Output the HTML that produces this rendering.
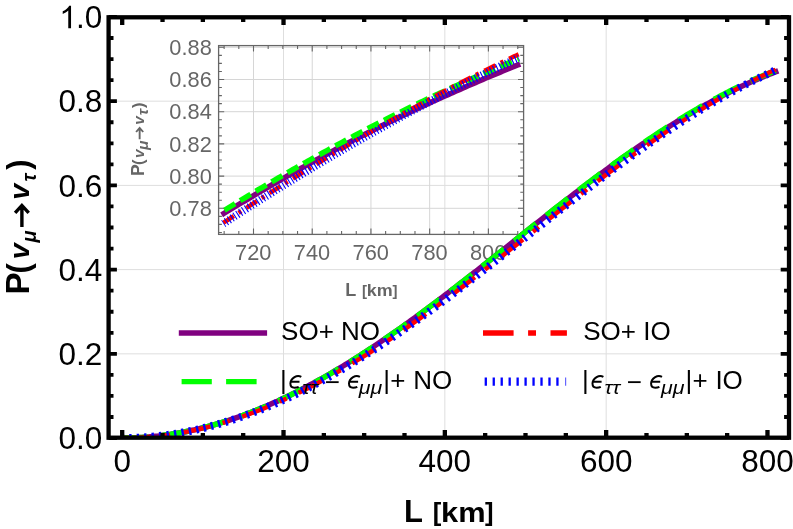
<!DOCTYPE html>
<html><head><meta charset="utf-8"><title>plot</title>
<style>html,body{margin:0;padding:0;background:#fff}svg{display:block;will-change:transform;opacity:0.999}</style></head>
<body>
<svg width="793" height="529" viewBox="0 0 793 529">
<defs><clipPath id="cm"><rect x="108.6" y="17.3" width="680.4" height="420.4"/></clipPath><clipPath id="ci"><rect x="218.6" y="45.6" width="305" height="188.8"/></clipPath></defs>
<rect width="793" height="529" fill="#fff"/>
<g stroke="#dedede" stroke-width="1" fill="none">
<line x1="283.52" x2="283.52" y1="17.3" y2="437.7"/>
<line x1="444.84" x2="444.84" y1="17.3" y2="437.7"/>
<line x1="606.16" x2="606.16" y1="17.3" y2="437.7"/>
<line y1="353.84" y2="353.84" x1="108.6" x2="789"/>
<line y1="269.62" y2="269.62" x1="108.6" x2="789"/>
<line y1="185.40" y2="185.40" x1="108.6" x2="789"/>
<line y1="101.18" y2="101.18" x1="108.6" x2="789"/>
</g>
<g stroke="#d6d6d6" stroke-width="1" fill="none">
<line x1="253.50" x2="253.50" y1="45.6" y2="234.4"/>
<line x1="312.22" x2="312.22" y1="45.6" y2="234.4"/>
<line x1="370.94" x2="370.94" y1="45.6" y2="234.4"/>
<line x1="429.66" x2="429.66" y1="45.6" y2="234.4"/>
<line x1="488.38" x2="488.38" y1="45.6" y2="234.4"/>
<line y1="208.30" y2="208.30" x1="218.6" x2="523.6"/>
<line y1="176.10" y2="176.10" x1="218.6" x2="523.6"/>
<line y1="143.90" y2="143.90" x1="218.6" x2="523.6"/>
<line y1="111.70" y2="111.70" x1="218.6" x2="523.6"/>
<line y1="79.50" y2="79.50" x1="218.6" x2="523.6"/>
<line y1="47.30" y2="47.30" x1="218.6" x2="523.6"/>
</g>
<g clip-path="url(#ci)" fill="none" stroke-linecap="butt" stroke-linejoin="round">
<path d="M221.64 214.79 L224.13 213.27 L226.62 211.76 L229.11 210.25 L231.60 208.74 L234.09 207.24 L236.57 205.74 L239.06 204.25 L241.55 202.75 L244.04 201.27 L246.53 199.78 L249.02 198.31 L251.50 196.83 L253.99 195.36 L256.48 193.89 L258.97 192.43 L261.46 190.97 L263.94 189.51 L266.43 188.06 L268.92 186.61 L271.41 185.17 L273.90 183.73 L276.39 182.30 L278.87 180.87 L281.36 179.44 L283.85 178.02 L286.34 176.60 L288.83 175.18 L291.32 173.77 L293.80 172.37 L296.29 170.97 L298.78 169.57 L301.27 168.17 L303.76 166.78 L306.25 165.40 L308.73 164.02 L311.22 162.64 L313.71 161.28 L316.20 159.93 L318.69 158.58 L321.17 157.24 L323.66 155.90 L326.15 154.56 L328.64 153.23 L331.13 151.91 L333.62 150.58 L336.10 149.27 L338.59 147.95 L341.08 146.64 L343.57 145.34 L346.06 144.04 L348.55 142.74 L351.03 141.45 L353.52 140.17 L356.01 138.88 L358.50 137.61 L360.99 136.33 L363.48 135.06 L365.96 133.80 L368.45 132.54 L370.94 131.28 L373.43 130.03 L375.92 128.78 L378.40 127.54 L380.89 126.30 L383.38 125.07 L385.87 123.84 L388.36 122.62 L390.85 121.40 L393.33 120.18 L395.82 118.97 L398.31 117.77 L400.80 116.57 L403.29 115.37 L405.78 114.18 L408.26 112.99 L410.75 111.81 L413.24 110.63 L415.73 109.45 L418.22 108.29 L420.71 107.12 L423.19 105.96 L425.68 104.81 L428.17 103.66 L430.66 102.51 L433.15 101.37 L435.63 100.23 L438.12 99.10 L440.61 97.98 L443.10 96.85 L445.59 95.74 L448.08 94.62 L450.56 93.52 L453.05 92.41 L455.54 91.32 L458.03 90.22 L460.52 89.12 L463.01 88.02 L465.49 86.93 L467.98 85.84 L470.47 84.75 L472.96 83.67 L475.45 82.60 L477.94 81.53 L480.42 80.46 L482.91 79.40 L485.40 78.34 L487.89 77.29 L490.38 76.24 L492.86 75.20 L495.35 74.16 L497.84 73.13 L500.33 72.11 L502.82 71.08 L505.31 70.07 L507.79 69.05 L510.28 68.05 L512.77 67.05 L515.26 66.05 L517.75 65.06 L520.24 64.07" stroke="#800080" stroke-width="5.5"/>
<path d="M224.43 210.24 L226.89 208.73 L229.34 207.23 L231.79 205.73 L234.24 204.23 L236.69 202.74 L239.14 201.25 L241.59 199.77 L244.05 198.29 L246.50 196.81 L248.95 195.34 L251.40 193.87 L253.85 192.41 L256.30 190.94 L258.76 189.49 L261.21 188.03 L263.66 186.58 L266.11 185.14 L268.56 183.70 L271.01 182.26 L273.46 180.83 L275.92 179.40 L278.37 177.97 L280.82 176.55 L283.27 175.13 L285.72 173.71 L288.17 172.30 L290.63 170.90 L293.08 169.50 L295.53 168.10 L297.98 166.70 L300.43 165.31 L302.88 163.93 L305.34 162.54 L307.79 161.17 L310.24 159.79 L312.69 158.42 L315.14 157.06 L317.59 155.69 L320.04 154.34 L322.50 152.98 L324.95 151.63 L327.40 150.29 L329.85 148.95 L332.30 147.61 L334.75 146.28 L337.21 144.95 L339.66 143.62 L342.11 142.30 L344.56 140.99 L347.01 139.68 L349.46 138.37 L351.91 137.07 L354.37 135.77 L356.82 134.47 L359.27 133.18 L361.72 131.89 L364.17 130.61 L366.62 129.33 L369.08 128.06 L371.53 126.79 L373.98 125.53 L376.43 124.27 L378.88 123.01 L381.33 121.76 L383.78 120.51 L386.24 119.27 L388.69 118.03 L391.14 116.79 L393.59 115.57 L396.04 114.34 L398.49 113.12 L400.95 111.90 L403.40 110.69 L405.85 109.48 L408.30 108.28 L410.75 107.08 L413.20 105.88 L415.66 104.69 L418.11 103.51 L420.56 102.33 L423.01 101.15 L425.46 99.98 L427.91 98.81 L430.36 97.65 L432.82 96.49 L435.27 95.34 L437.72 94.19 L440.17 93.04 L442.62 91.90 L445.07 90.77 L447.53 89.64 L449.98 88.51 L452.43 87.39 L454.88 86.27 L457.33 85.16 L459.78 84.05 L462.23 82.95 L464.69 81.85 L467.14 80.75 L469.59 79.66 L472.04 78.58 L474.49 77.50 L476.94 76.42 L479.40 75.35 L481.85 74.29 L484.30 73.23 L486.75 72.17 L489.20 71.12 L491.65 70.07 L494.11 69.03 L496.56 67.99 L499.01 66.96 L501.46 65.93 L503.91 64.90 L506.36 63.89 L508.81 62.87 L511.27 61.86 L513.72 60.86 L516.17 59.86 L518.62 58.86" stroke="#00ff00" stroke-width="5.5" stroke-dasharray="12.5 5.82" stroke-dashoffset="0.00"/>
<path d="M223.41 222.78 L225.87 221.17 L228.33 219.56 L230.79 217.96 L233.25 216.35 L235.71 214.76 L238.17 213.16 L240.63 211.57 L243.09 209.98 L245.55 208.39 L248.01 206.81 L250.47 205.23 L252.93 203.66 L255.39 202.09 L257.85 200.52 L260.31 198.95 L262.77 197.39 L265.23 195.83 L267.69 194.28 L270.15 192.73 L272.61 191.18 L275.07 189.63 L277.53 188.09 L279.99 186.55 L282.45 185.02 L284.91 183.49 L287.37 181.96 L289.83 180.44 L292.29 178.92 L294.75 177.40 L297.21 175.89 L299.67 174.38 L302.13 172.87 L304.59 171.37 L307.05 169.87 L309.51 168.37 L311.97 166.88 L314.43 165.37 L316.89 163.87 L319.35 162.37 L321.81 160.87 L324.27 159.38 L326.73 157.89 L329.19 156.41 L331.65 154.93 L334.11 153.45 L336.57 151.97 L339.03 150.50 L341.49 149.04 L343.95 147.57 L346.41 146.11 L348.87 144.66 L351.33 143.21 L353.79 141.76 L356.25 140.31 L358.71 138.87 L361.17 137.44 L363.63 136.00 L366.09 134.57 L368.55 133.15 L371.01 131.73 L373.47 130.31 L375.93 128.89 L378.39 127.48 L380.85 126.08 L383.31 124.68 L385.77 123.28 L388.23 121.88 L390.69 120.49 L393.15 119.11 L395.61 117.72 L398.07 116.35 L400.53 114.97 L403.00 113.60 L405.46 112.23 L407.92 110.87 L410.38 109.51 L412.84 108.16 L415.30 106.81 L417.76 105.46 L420.22 104.12 L422.68 102.78 L425.14 101.44 L427.60 100.11 L430.06 98.78 L432.52 97.46 L434.98 96.14 L437.44 94.83 L439.90 93.52 L442.36 92.21 L444.82 90.91 L447.28 89.61 L449.74 88.32 L452.20 87.03 L454.66 85.74 L457.12 84.46 L459.58 83.19 L462.04 81.93 L464.50 80.68 L466.96 79.44 L469.42 78.20 L471.88 76.96 L474.34 75.73 L476.80 74.50 L479.26 73.27 L481.72 72.05 L484.18 70.84 L486.64 69.62 L489.10 68.42 L491.56 67.21 L494.02 66.01 L496.48 64.82 L498.94 63.63 L501.40 62.44 L503.86 61.26 L506.32 60.08 L508.78 58.91 L511.24 57.74 L513.70 56.57 L516.16 55.41 L518.62 54.26" stroke="#ff0000" stroke-width="4.4" stroke-dasharray="12.4 5.65 3.3 6.12" stroke-dashoffset="0.00"/>
<path d="M223.41 223.62 L225.87 222.01 L228.33 220.42 L230.79 218.82 L233.25 217.23 L235.71 215.64 L238.17 214.06 L240.63 212.48 L243.09 210.90 L245.55 209.32 L248.01 207.75 L250.47 206.18 L252.93 204.62 L255.39 203.06 L257.85 201.50 L260.31 199.95 L262.77 198.40 L265.23 196.85 L267.69 195.30 L270.15 193.76 L272.61 192.23 L275.07 190.69 L277.53 189.16 L279.99 187.64 L282.45 186.11 L284.91 184.59 L287.37 183.08 L289.83 181.56 L292.29 180.05 L294.75 178.55 L297.21 177.05 L299.67 175.55 L302.13 174.05 L304.59 172.56 L307.05 171.08 L309.51 169.59 L311.97 168.11 L314.43 166.63 L316.89 165.16 L319.35 163.69 L321.81 162.23 L324.27 160.76 L326.73 159.31 L329.19 157.85 L331.65 156.40 L334.11 154.95 L336.57 153.51 L339.03 152.07 L341.49 150.63 L343.95 149.20 L346.41 147.77 L348.87 146.35 L351.33 144.93 L353.79 143.51 L356.25 142.10 L358.71 140.69 L361.17 139.28 L363.63 137.88 L366.09 136.48 L368.55 135.09 L371.01 133.70 L373.47 132.31 L375.93 130.93 L378.39 129.55 L380.85 128.18 L383.31 126.81 L385.77 125.44 L388.23 124.08 L390.69 122.72 L393.15 121.36 L395.61 120.01 L398.07 118.67 L400.53 117.32 L403.00 115.98 L405.46 114.65 L407.92 113.32 L410.38 111.99 L412.84 110.67 L415.30 109.35 L417.76 108.04 L420.22 106.72 L422.68 105.42 L425.14 104.12 L427.60 102.82 L430.06 101.52 L432.52 100.23 L434.98 98.95 L437.44 97.66 L439.90 96.39 L442.36 95.11 L444.82 93.84 L447.28 92.58 L449.74 91.32 L452.20 90.06 L454.66 88.81 L457.12 87.56 L459.58 86.31 L462.04 85.07 L464.50 83.84 L466.96 82.60 L469.42 81.38 L471.88 80.15 L474.34 78.93 L476.80 77.72 L479.26 76.51 L481.72 75.30 L484.18 74.10 L486.64 72.90 L489.10 71.71 L491.56 70.52 L494.02 69.33 L496.48 68.15 L498.94 66.98 L501.40 65.81 L503.86 64.64 L506.32 63.47 L508.78 62.32 L511.24 61.16 L513.70 60.01 L516.16 58.87 L518.62 57.72" stroke="#0000ff" stroke-width="7.9" stroke-dasharray="1.1 2.286" stroke-dashoffset="0.30"/>
</g>
<g stroke="#666666" fill="none">
<rect x="218.6" y="45.6" width="305" height="188.8" stroke-width="1.3"/>
<path d="M224.14 234.4v-3.3M224.14 45.6v3.3M238.82 234.4v-3.3M238.82 45.6v3.3M253.50 234.4v-6.0M253.50 45.6v6.0M268.18 234.4v-3.3M268.18 45.6v3.3M282.86 234.4v-3.3M282.86 45.6v3.3M297.54 234.4v-3.3M297.54 45.6v3.3M312.22 234.4v-6.0M312.22 45.6v6.0M326.90 234.4v-3.3M326.90 45.6v3.3M341.58 234.4v-3.3M341.58 45.6v3.3M356.26 234.4v-3.3M356.26 45.6v3.3M370.94 234.4v-6.0M370.94 45.6v6.0M385.62 234.4v-3.3M385.62 45.6v3.3M400.30 234.4v-3.3M400.30 45.6v3.3M414.98 234.4v-3.3M414.98 45.6v3.3M429.66 234.4v-6.0M429.66 45.6v6.0M444.34 234.4v-3.3M444.34 45.6v3.3M459.02 234.4v-3.3M459.02 45.6v3.3M473.70 234.4v-3.3M473.70 45.6v3.3M488.38 234.4v-6.0M488.38 45.6v6.0M503.06 234.4v-3.3M503.06 45.6v3.3M517.74 234.4v-3.3M517.74 45.6v3.3M218.6 232.45h3.3M523.6 232.45h-3.3M218.6 224.40h3.3M523.6 224.40h-3.3M218.6 216.35h3.3M523.6 216.35h-3.3M218.6 208.30h5.6M523.6 208.30h-5.6M218.6 200.25h3.3M523.6 200.25h-3.3M218.6 192.20h3.3M523.6 192.20h-3.3M218.6 184.15h3.3M523.6 184.15h-3.3M218.6 176.10h5.6M523.6 176.10h-5.6M218.6 168.05h3.3M523.6 168.05h-3.3M218.6 160.00h3.3M523.6 160.00h-3.3M218.6 151.95h3.3M523.6 151.95h-3.3M218.6 143.90h5.6M523.6 143.90h-5.6M218.6 135.85h3.3M523.6 135.85h-3.3M218.6 127.80h3.3M523.6 127.80h-3.3M218.6 119.75h3.3M523.6 119.75h-3.3M218.6 111.70h5.6M523.6 111.70h-5.6M218.6 103.65h3.3M523.6 103.65h-3.3M218.6 95.60h3.3M523.6 95.60h-3.3M218.6 87.55h3.3M523.6 87.55h-3.3M218.6 79.50h5.6M523.6 79.50h-5.6M218.6 71.45h3.3M523.6 71.45h-3.3M218.6 63.40h3.3M523.6 63.40h-3.3M218.6 55.35h3.3M523.6 55.35h-3.3M218.6 47.30h5.6M523.6 47.30h-5.6" stroke-width="1.1"/>
</g>
<g font-family='"Liberation Sans", sans-serif' font-size="21.8" fill="#666666">
<text x="211.8" y="215.90" text-anchor="end">0.78</text>
<text x="211.8" y="183.70" text-anchor="end">0.80</text>
<text x="211.8" y="151.50" text-anchor="end">0.82</text>
<text x="211.8" y="119.30" text-anchor="end">0.84</text>
<text x="211.8" y="87.10" text-anchor="end">0.86</text>
<text x="211.8" y="54.90" text-anchor="end">0.88</text>
<text x="253.30" y="260.4" text-anchor="middle">720</text>
<text x="312.02" y="260.4" text-anchor="middle">740</text>
<text x="370.74" y="260.4" text-anchor="middle">760</text>
<text x="429.46" y="260.4" text-anchor="middle">780</text>
<text x="488.18" y="260.4" text-anchor="middle">800</text>
</g>
<g transform="translate(346.50 295.90) scale(0.5820)" font-family='"Liberation Sans", sans-serif' font-weight="bold" fill="#666666"><text x="-2.1" y="0" font-size="31">L</text><text x="26.7" y="-0.3" font-size="25.7">[</text><text x="35.0" y="0" font-size="28.5" textLength="44.5" lengthAdjust="spacingAndGlyphs">km</text><text x="78.9" y="-0.3" font-size="25.7">]</text></g>
<g transform="translate(144.10 174.90) rotate(-90) scale(1.0000)" font-family='"Liberation Sans", sans-serif' font-weight="bold" fill="#666666"><text x="-1.20" y="0.00"  font-size="17.60">P</text><text x="10.00" y="-0.30"  font-size="16.50">(</text><text x="16.90" y="0.00" font-style="italic" font-size="15.50">v</text><text x="24.90" y="4.00" font-style="italic" font-size="15.50">&#x3bc;</text><path d="M35.7 -4.45H46.6M42.9 -8.0L47.0 -4.45L42.9 -0.9" fill="none" stroke="#666666" stroke-width="1.9" stroke-linejoin="miter"/><text x="50.10" y="0.00" font-style="italic" font-size="15.50">v</text><text x="59.60" y="4.00" font-style="italic" font-size="15.50">&#x3c4;</text><text x="66.90" y="-0.30"  font-size="16.50">)</text></g>
<g clip-path="url(#cm)" fill="none" stroke-linecap="butt" stroke-linejoin="round">
<path d="M122.20 438.06 L124.39 438.05 L126.57 438.03 L128.76 437.99 L130.95 437.94 L133.13 437.87 L135.32 437.79 L137.51 437.69 L139.70 437.57 L141.88 437.44 L144.07 437.30 L146.26 437.14 L148.44 436.96 L150.63 436.77 L152.82 436.57 L155.00 436.35 L157.19 436.11 L159.38 435.86 L161.57 435.60 L163.75 435.32 L165.94 435.02 L168.13 434.71 L170.31 434.38 L172.50 434.04 L174.69 433.69 L176.87 433.32 L179.06 432.93 L181.25 432.53 L183.43 432.12 L185.62 431.69 L187.81 431.24 L190.00 430.78 L192.18 430.31 L194.37 429.82 L196.56 429.32 L198.74 428.80 L200.93 428.27 L203.12 427.72 L205.30 427.16 L207.49 426.58 L209.68 426.00 L211.87 425.39 L214.05 424.78 L216.24 424.15 L218.43 423.50 L220.61 422.85 L222.80 422.17 L224.99 421.49 L227.17 420.79 L229.36 420.08 L231.55 419.36 L233.74 418.62 L235.92 417.86 L238.11 417.10 L240.30 416.32 L242.48 415.53 L244.67 414.73 L246.86 413.91 L249.04 413.08 L251.23 412.23 L253.42 411.38 L255.60 410.51 L257.79 409.63 L259.98 408.73 L262.17 407.82 L264.35 406.91 L266.54 405.97 L268.73 405.03 L270.91 404.07 L273.10 403.10 L275.29 402.12 L277.47 401.13 L279.66 400.12 L281.85 399.10 L284.04 398.07 L286.22 397.03 L288.41 395.98 L290.60 394.91 L292.78 393.83 L294.97 392.74 L297.16 391.64 L299.34 390.53 L301.53 389.41 L303.72 388.27 L305.90 387.13 L308.09 385.97 L310.28 384.80 L312.47 383.62 L314.65 382.43 L316.84 381.23 L319.03 380.02 L321.21 378.80 L323.40 377.56 L325.59 376.32 L327.77 375.07 L329.96 373.80 L332.15 372.53 L334.34 371.24 L336.52 369.95 L338.71 368.64 L340.90 367.33 L343.08 366.00 L345.27 364.67 L347.46 363.32 L349.64 361.97 L351.83 360.61 L354.02 359.23 L356.20 357.85 L358.39 356.46 L360.58 355.06 L362.77 353.65 L364.95 352.23 L367.14 350.81 L369.33 349.37 L371.51 347.93 L373.70 346.48 L375.89 345.02 L378.07 343.55 L380.26 342.07 L382.45 340.58 L384.64 339.09 L386.82 337.59 L389.01 336.08 L391.20 334.57 L393.38 333.04 L395.57 331.51 L397.76 329.97 L399.94 328.43 L402.13 326.87 L404.32 325.32 L406.50 323.75 L408.69 322.18 L410.88 320.60 L413.07 319.01 L415.25 317.42 L417.44 315.82 L419.63 314.22 L421.81 312.61 L424.00 310.99 L426.19 309.37 L428.37 307.74 L430.56 306.11 L432.75 304.47 L434.94 302.83 L437.12 301.18 L439.31 299.52 L441.50 297.87 L443.68 296.20 L445.87 294.54 L448.06 292.87 L450.24 291.19 L452.43 289.51 L454.62 287.83 L456.81 286.14 L458.99 284.45 L461.18 282.75 L463.37 281.05 L465.55 279.35 L467.74 277.65 L469.93 275.94 L472.11 274.23 L474.30 272.51 L476.49 270.80 L478.67 269.08 L480.86 267.36 L483.05 265.64 L485.24 263.91 L487.42 262.19 L489.61 260.46 L491.80 258.73 L493.98 257.00 L496.17 255.26 L498.36 253.53 L500.54 251.79 L502.73 250.06 L504.92 248.32 L507.11 246.58 L509.29 244.85 L511.48 243.11 L513.67 241.37 L515.85 239.63 L518.04 237.90 L520.23 236.16 L522.41 234.42 L524.60 232.69 L526.79 230.95 L528.97 229.22 L531.16 227.48 L533.35 225.75 L535.54 224.02 L537.72 222.29 L539.91 220.56 L542.10 218.84 L544.28 217.11 L546.47 215.39 L548.66 213.67 L550.84 211.96 L553.03 210.24 L555.22 208.53 L557.41 206.82 L559.59 205.11 L561.78 203.41 L563.97 201.71 L566.15 200.02 L568.34 198.32 L570.53 196.63 L572.71 194.95 L574.90 193.27 L577.09 191.59 L579.27 189.92 L581.46 188.25 L583.65 186.59 L585.84 184.93 L588.02 183.27 L590.21 181.62 L592.40 179.98 L594.58 178.34 L596.77 176.71 L598.96 175.08 L601.14 173.46 L603.33 171.84 L605.52 170.23 L607.71 168.63 L609.89 167.03 L612.08 165.44 L614.27 163.85 L616.45 162.27 L618.64 160.70 L620.83 159.14 L623.01 157.58 L625.20 156.03 L627.39 154.48 L629.58 152.95 L631.76 151.42 L633.95 149.89 L636.14 148.38 L638.32 146.87 L640.51 145.38 L642.70 143.89 L644.88 142.40 L647.07 140.93 L649.26 139.47 L651.44 138.01 L653.63 136.56 L655.82 135.12 L658.01 133.69 L660.19 132.26 L662.38 130.85 L664.57 129.44 L666.75 128.04 L668.94 126.65 L671.13 125.27 L673.31 123.90 L675.50 122.54 L677.69 121.19 L679.88 119.85 L682.06 118.52 L684.25 117.19 L686.44 115.88 L688.62 114.58 L690.81 113.28 L693.00 112.00 L695.18 110.73 L697.37 109.47 L699.56 108.22 L701.74 106.97 L703.93 105.74 L706.12 104.52 L708.31 103.31 L710.49 102.12 L712.68 100.93 L714.87 99.75 L717.05 98.59 L719.24 97.43 L721.43 96.29 L723.61 95.16 L725.80 94.04 L727.99 92.93 L730.18 91.84 L732.36 90.75 L734.55 89.68 L736.74 88.62 L738.92 87.57 L741.11 86.54 L743.30 85.51 L745.48 84.50 L747.67 83.50 L749.86 82.52 L752.04 81.54 L754.23 80.58 L756.42 79.63 L758.61 78.70 L760.79 77.77 L762.98 76.86 L765.17 75.96 L767.35 75.08 L769.54 74.21 L771.73 73.35 L773.91 72.51 L776.10 71.67 L778.29 70.86" stroke="#800080" stroke-width="5.5"/>
<path d="M122.20 438.06 L124.38 438.05 L126.56 438.03 L128.74 437.99 L130.91 437.94 L133.09 437.87 L135.27 437.79 L137.45 437.69 L139.63 437.58 L141.81 437.45 L143.98 437.31 L146.16 437.15 L148.34 436.97 L150.52 436.79 L152.70 436.58 L154.88 436.36 L157.05 436.13 L159.23 435.88 L161.41 435.62 L163.59 435.34 L165.77 435.05 L167.95 434.74 L170.12 434.42 L172.30 434.08 L174.48 433.73 L176.66 433.36 L178.84 432.98 L181.02 432.58 L183.19 432.17 L185.37 431.74 L187.55 431.30 L189.73 430.85 L191.91 430.38 L194.09 429.89 L196.26 429.39 L198.44 428.88 L200.62 428.35 L202.80 427.81 L204.98 427.26 L207.16 426.69 L209.33 426.10 L211.51 425.51 L213.69 424.89 L215.87 424.27 L218.05 423.63 L220.23 422.98 L222.40 422.31 L224.58 421.64 L226.76 420.94 L228.94 420.24 L231.12 419.52 L233.30 418.79 L235.47 418.04 L237.65 417.28 L239.83 416.51 L242.01 415.73 L244.19 414.93 L246.37 414.12 L248.54 413.29 L250.72 412.46 L252.90 411.61 L255.08 410.75 L257.26 409.87 L259.44 408.98 L261.61 408.08 L263.79 407.17 L265.97 406.25 L268.15 405.31 L270.33 404.36 L272.51 403.40 L274.69 402.43 L276.86 401.44 L279.04 400.44 L281.22 399.43 L283.40 398.41 L285.58 397.38 L287.76 396.33 L289.93 395.27 L292.11 394.20 L294.29 393.12 L296.47 392.03 L298.65 390.93 L300.83 389.81 L303.00 388.69 L305.18 387.55 L307.36 386.40 L309.54 385.24 L311.72 384.07 L313.90 382.89 L316.07 381.70 L318.25 380.50 L320.43 379.28 L322.61 378.06 L324.79 376.83 L326.97 375.58 L329.14 374.33 L331.32 373.06 L333.50 371.78 L335.68 370.50 L337.86 369.20 L340.04 367.90 L342.21 366.58 L344.39 365.26 L346.57 363.92 L348.75 362.58 L350.93 361.22 L353.11 359.86 L355.28 358.49 L357.46 357.11 L359.64 355.72 L361.82 354.32 L364.00 352.91 L366.18 351.49 L368.35 350.06 L370.53 348.63 L372.71 347.19 L374.89 345.74 L377.07 344.28 L379.25 342.81 L381.42 341.33 L383.60 339.85 L385.78 338.36 L387.96 336.86 L390.14 335.35 L392.32 333.84 L394.49 332.31 L396.67 330.78 L398.85 329.25 L401.03 327.70 L403.21 326.15 L405.39 324.60 L407.56 323.03 L409.74 321.46 L411.92 319.88 L414.10 318.30 L416.28 316.71 L418.46 315.11 L420.64 313.51 L422.81 311.90 L424.99 310.29 L427.17 308.67 L429.35 307.05 L431.53 305.42 L433.71 303.78 L435.88 302.14 L438.06 300.50 L440.24 298.85 L442.42 297.19 L444.60 295.53 L446.78 293.87 L448.95 292.20 L451.13 290.52 L453.31 288.85 L455.49 287.17 L457.67 285.48 L459.85 283.79 L462.02 282.10 L464.20 280.41 L466.38 278.71 L468.56 277.01 L470.74 275.30 L472.92 273.59 L475.09 271.88 L477.27 270.17 L479.45 268.46 L481.63 266.74 L483.81 265.02 L485.99 263.30 L488.16 261.57 L490.34 259.85 L492.52 258.12 L494.70 256.39 L496.88 254.66 L499.06 252.93 L501.23 251.20 L503.41 249.47 L505.59 247.73 L507.77 246.00 L509.95 244.26 L512.13 242.53 L514.30 240.79 L516.48 239.06 L518.66 237.32 L520.84 235.59 L523.02 233.85 L525.20 232.12 L527.37 230.39 L529.55 228.66 L531.73 226.92 L533.91 225.19 L536.09 223.47 L538.27 221.74 L540.44 220.01 L542.62 218.29 L544.80 216.57 L546.98 214.85 L549.16 213.13 L551.34 211.42 L553.51 209.70 L555.69 207.99 L557.87 206.28 L560.05 204.58 L562.23 202.88 L564.41 201.18 L566.58 199.49 L568.76 197.79 L570.94 196.11 L573.12 194.42 L575.30 192.74 L577.48 191.06 L579.66 189.39 L581.83 187.72 L584.01 186.06 L586.19 184.40 L588.37 182.75 L590.55 181.10 L592.73 179.45 L594.90 177.82 L597.08 176.18 L599.26 174.55 L601.44 172.93 L603.62 171.31 L605.80 169.70 L607.97 168.10 L610.15 166.50 L612.33 164.90 L614.51 163.32 L616.69 161.74 L618.87 160.16 L621.04 158.60 L623.22 157.03 L625.40 155.48 L627.58 153.93 L629.76 152.40 L631.94 150.86 L634.11 149.34 L636.29 147.82 L638.47 146.31 L640.65 144.81 L642.83 143.32 L645.01 141.83 L647.18 140.36 L649.36 138.89 L651.54 137.42 L653.72 135.97 L655.90 134.53 L658.08 133.09 L660.25 131.66 L662.43 130.24 L664.61 128.83 L666.79 127.42 L668.97 126.03 L671.15 124.64 L673.32 123.27 L675.50 121.90 L677.68 120.54 L679.86 119.20 L682.04 117.86 L684.22 116.53 L686.39 115.21 L688.57 113.90 L690.75 112.60 L692.93 111.31 L695.11 110.03 L697.29 108.76 L699.46 107.50 L701.64 106.25 L703.82 105.01 L706.00 103.78 L708.18 102.56 L710.36 101.35 L712.53 100.16 L714.71 98.97 L716.89 97.80 L719.07 96.63 L721.25 95.48 L723.43 94.34 L725.61 93.21 L727.78 92.09 L729.96 90.98 L732.14 89.89 L734.32 88.81 L736.50 87.73 L738.68 86.67 L740.85 85.63 L743.03 84.59 L745.21 83.57 L747.39 82.56 L749.57 81.56 L751.75 80.57 L753.92 79.59 L756.10 78.63 L758.28 77.68 L760.46 76.75 L762.64 75.82 L764.82 74.91 L766.99 74.01 L769.17 73.13 L771.35 72.25 L773.53 71.39 L775.71 70.55" stroke="#00ff00" stroke-width="5.5" stroke-dasharray="27.9 12.95" stroke-dashoffset="1.85"/>
<path d="M122.20 438.06 L124.38 438.05 L126.56 438.03 L128.74 437.99 L130.91 437.94 L133.09 437.88 L135.27 437.80 L137.45 437.71 L139.63 437.60 L141.81 437.48 L143.98 437.34 L146.16 437.19 L148.34 437.02 L150.52 436.84 L152.70 436.65 L154.88 436.44 L157.05 436.21 L159.23 435.98 L161.41 435.72 L163.59 435.46 L165.77 435.18 L167.95 434.88 L170.12 434.57 L172.30 434.25 L174.48 433.91 L176.66 433.56 L178.84 433.20 L181.02 432.82 L183.19 432.42 L185.37 432.02 L187.55 431.59 L189.73 431.16 L191.91 430.71 L194.09 430.24 L196.26 429.77 L198.44 429.28 L200.62 428.77 L202.80 428.25 L204.98 427.72 L207.16 427.17 L209.33 426.61 L211.51 426.04 L213.69 425.46 L215.87 424.86 L218.05 424.25 L220.23 423.62 L222.40 422.98 L224.58 422.33 L226.76 421.67 L228.94 420.99 L231.12 420.30 L233.30 419.60 L235.47 418.89 L237.65 418.16 L239.83 417.42 L242.01 416.67 L244.19 415.90 L246.37 415.13 L248.54 414.34 L250.72 413.53 L252.90 412.72 L255.08 411.89 L257.26 411.05 L259.44 410.20 L261.61 409.34 L263.79 408.46 L265.97 407.57 L268.15 406.67 L270.33 405.76 L272.51 404.84 L274.69 403.90 L276.86 402.96 L279.04 402.00 L281.22 401.03 L283.40 400.05 L285.58 399.05 L287.76 398.05 L289.93 397.03 L292.11 396.00 L294.29 394.96 L296.47 393.91 L298.65 392.85 L300.83 391.78 L303.00 390.70 L305.18 389.60 L307.36 388.50 L309.54 387.38 L311.72 386.25 L313.90 385.12 L316.07 383.97 L318.25 382.81 L320.43 381.64 L322.61 380.46 L324.79 379.27 L326.97 378.07 L329.14 376.86 L331.32 375.64 L333.50 374.41 L335.68 373.17 L337.86 371.91 L340.04 370.65 L342.21 369.38 L344.39 368.10 L346.57 366.81 L348.75 365.52 L350.93 364.21 L353.11 362.89 L355.28 361.56 L357.46 360.23 L359.64 358.88 L361.82 357.53 L364.00 356.16 L366.18 354.79 L368.35 353.41 L370.53 352.02 L372.71 350.62 L374.89 349.22 L377.07 347.80 L379.25 346.38 L381.42 344.95 L383.60 343.51 L385.78 342.06 L387.96 340.60 L390.14 339.14 L392.32 337.67 L394.49 336.19 L396.67 334.71 L398.85 333.21 L401.03 331.71 L403.21 330.20 L405.39 328.69 L407.56 327.17 L409.74 325.64 L411.92 324.10 L414.10 322.56 L416.28 321.01 L418.46 319.46 L420.64 317.89 L422.81 316.33 L424.99 314.75 L427.17 313.17 L429.35 311.59 L431.53 309.99 L433.71 308.40 L435.88 306.79 L438.06 305.19 L440.24 303.57 L442.42 301.95 L444.60 300.33 L446.78 298.70 L448.95 297.07 L451.13 295.43 L453.31 293.79 L455.49 292.14 L457.67 290.49 L459.85 288.83 L462.02 287.17 L464.20 285.50 L466.38 283.84 L468.56 282.16 L470.74 280.49 L472.92 278.81 L475.09 277.13 L477.27 275.44 L479.45 273.75 L481.63 272.06 L483.81 270.37 L485.99 268.67 L488.16 266.97 L490.34 265.27 L492.52 263.56 L494.70 261.86 L496.88 260.15 L499.06 258.44 L501.23 256.73 L503.41 255.01 L505.59 253.30 L507.77 251.58 L509.95 249.86 L512.13 248.14 L514.30 246.42 L516.48 244.70 L518.66 242.98 L520.84 241.26 L523.02 239.53 L525.20 237.81 L527.37 236.09 L529.55 234.36 L531.73 232.64 L533.91 230.92 L536.09 229.19 L538.27 227.47 L540.44 225.75 L542.62 224.03 L544.80 222.31 L546.98 220.59 L549.16 218.87 L551.34 217.16 L553.51 215.44 L555.69 213.73 L557.87 212.02 L560.05 210.31 L562.23 208.60 L564.41 206.90 L566.58 205.19 L568.76 203.49 L570.94 201.79 L573.12 200.10 L575.30 198.41 L577.48 196.72 L579.66 195.03 L581.83 193.35 L584.01 191.67 L586.19 189.99 L588.37 188.32 L590.55 186.65 L592.73 184.98 L594.90 183.32 L597.08 181.66 L599.26 180.01 L601.44 178.36 L603.62 176.71 L605.80 175.07 L607.97 173.44 L610.15 171.81 L612.33 170.18 L614.51 168.56 L616.69 166.95 L618.87 165.34 L621.04 163.73 L623.22 162.14 L625.40 160.54 L627.58 158.95 L629.76 157.37 L631.94 155.80 L634.11 154.23 L636.29 152.67 L638.47 151.11 L640.65 149.56 L642.83 148.02 L645.01 146.48 L647.18 144.95 L649.36 143.43 L651.54 141.91 L653.72 140.40 L655.90 138.90 L658.08 137.40 L660.25 135.91 L662.43 134.43 L664.61 132.95 L666.79 131.49 L668.97 130.03 L671.15 128.57 L673.32 127.13 L675.50 125.69 L677.68 124.26 L679.86 122.84 L682.04 121.43 L684.22 120.02 L686.39 118.63 L688.57 117.24 L690.75 115.86 L692.93 114.49 L695.11 113.13 L697.29 111.77 L699.46 110.43 L701.64 109.09 L703.82 107.76 L706.00 106.45 L708.18 105.14 L710.36 103.84 L712.53 102.55 L714.71 101.27 L716.89 100.00 L719.07 98.74 L721.25 97.49 L723.43 96.24 L725.61 95.01 L727.78 93.79 L729.96 92.58 L732.14 91.38 L734.32 90.19 L736.50 89.01 L738.68 87.84 L740.85 86.68 L743.03 85.53 L745.21 84.40 L747.39 83.27 L749.57 82.15 L751.75 81.05 L753.92 79.96 L756.10 78.87 L758.28 77.80 L760.46 76.74 L762.64 75.69 L764.82 74.66 L766.99 73.63 L769.17 72.62 L771.35 71.61 L773.53 70.62 L775.71 69.64" stroke="#ff0000" stroke-width="4.4" stroke-dasharray="27.7 12.7 7.4 13.35" stroke-dashoffset="60.86"/>
<path d="M122.20 438.06 L124.38 438.05 L126.56 438.03 L128.74 437.99 L130.91 437.94 L133.09 437.88 L135.27 437.80 L137.45 437.71 L139.63 437.60 L141.81 437.47 L143.98 437.34 L146.16 437.18 L148.34 437.02 L150.52 436.84 L152.70 436.64 L154.88 436.43 L157.05 436.21 L159.23 435.97 L161.41 435.72 L163.59 435.45 L165.77 435.17 L167.95 434.88 L170.12 434.57 L172.30 434.24 L174.48 433.90 L176.66 433.55 L178.84 433.19 L181.02 432.81 L183.19 432.41 L185.37 432.00 L187.55 431.58 L189.73 431.14 L191.91 430.69 L194.09 430.23 L196.26 429.75 L198.44 429.26 L200.62 428.75 L202.80 428.23 L204.98 427.70 L207.16 427.15 L209.33 426.59 L211.51 426.02 L213.69 425.43 L215.87 424.83 L218.05 424.22 L220.23 423.59 L222.40 422.95 L224.58 422.30 L226.76 421.64 L228.94 420.96 L231.12 420.27 L233.30 419.56 L235.47 418.85 L237.65 418.12 L239.83 417.38 L242.01 416.62 L244.19 415.86 L246.37 415.08 L248.54 414.29 L250.72 413.48 L252.90 412.67 L255.08 411.84 L257.26 411.00 L259.44 410.14 L261.61 409.28 L263.79 408.40 L265.97 407.51 L268.15 406.61 L270.33 405.70 L272.51 404.77 L274.69 403.83 L276.86 402.89 L279.04 401.93 L281.22 400.95 L283.40 399.97 L285.58 398.97 L287.76 397.97 L289.93 396.95 L292.11 395.92 L294.29 394.88 L296.47 393.83 L298.65 392.76 L300.83 391.69 L303.00 390.60 L305.18 389.51 L307.36 388.40 L309.54 387.28 L311.72 386.15 L313.90 385.01 L316.07 383.86 L318.25 382.70 L320.43 381.53 L322.61 380.35 L324.79 379.16 L326.97 377.96 L329.14 376.74 L331.32 375.52 L333.50 374.29 L335.68 373.05 L337.86 371.79 L340.04 370.53 L342.21 369.26 L344.39 367.98 L346.57 366.69 L348.75 365.38 L350.93 364.07 L353.11 362.75 L355.28 361.43 L357.46 360.09 L359.64 358.74 L361.82 357.38 L364.00 356.02 L366.18 354.65 L368.35 353.26 L370.53 351.87 L372.71 350.47 L374.89 349.06 L377.07 347.65 L379.25 346.22 L381.42 344.79 L383.60 343.35 L385.78 341.90 L387.96 340.44 L390.14 338.98 L392.32 337.51 L394.49 336.03 L396.67 334.54 L398.85 333.05 L401.03 331.54 L403.21 330.03 L405.39 328.52 L407.56 327.00 L409.74 325.47 L411.92 323.93 L414.10 322.38 L416.28 320.83 L418.46 319.28 L420.64 317.72 L422.81 316.15 L424.99 314.57 L427.17 312.99 L429.35 311.40 L431.53 309.81 L433.71 308.21 L435.88 306.61 L438.06 305.00 L440.24 303.39 L442.42 301.77 L444.60 300.14 L446.78 298.51 L448.95 296.88 L451.13 295.24 L453.31 293.60 L455.49 291.95 L457.67 290.30 L459.85 288.64 L462.02 286.98 L464.20 285.31 L466.38 283.65 L468.56 281.97 L470.74 280.30 L472.92 278.62 L475.09 276.94 L477.27 275.25 L479.45 273.56 L481.63 271.87 L483.81 270.18 L485.99 268.48 L488.16 266.78 L490.34 265.08 L492.52 263.38 L494.70 261.67 L496.88 259.96 L499.06 258.25 L501.23 256.54 L503.41 254.83 L505.59 253.11 L507.77 251.40 L509.95 249.68 L512.13 247.96 L514.30 246.24 L516.48 244.52 L518.66 242.80 L520.84 241.08 L523.02 239.36 L525.20 237.64 L527.37 235.92 L529.55 234.20 L531.73 232.48 L533.91 230.75 L536.09 229.03 L538.27 227.31 L540.44 225.59 L542.62 223.88 L544.80 222.16 L546.98 220.44 L549.16 218.73 L551.34 217.01 L553.51 215.30 L555.69 213.59 L557.87 211.88 L560.05 210.18 L562.23 208.47 L564.41 206.77 L566.58 205.07 L568.76 203.37 L570.94 201.68 L573.12 199.98 L575.30 198.30 L577.48 196.61 L579.66 194.93 L581.83 193.25 L584.01 191.57 L586.19 189.90 L588.37 188.23 L590.55 186.56 L592.73 184.90 L594.90 183.24 L597.08 181.59 L599.26 179.94 L601.44 178.30 L603.62 176.66 L605.80 175.02 L607.97 173.39 L610.15 171.76 L612.33 170.14 L614.51 168.53 L616.69 166.92 L618.87 165.31 L621.04 163.71 L623.22 162.12 L625.40 160.53 L627.58 158.95 L629.76 157.38 L631.94 155.81 L634.11 154.24 L636.29 152.69 L638.47 151.14 L640.65 149.59 L642.83 148.06 L645.01 146.52 L647.18 145.00 L649.36 143.48 L651.54 141.97 L653.72 140.47 L655.90 138.98 L658.08 137.49 L660.25 136.00 L662.43 134.53 L664.61 133.06 L666.79 131.60 L668.97 130.15 L671.15 128.70 L673.32 127.27 L675.50 125.84 L677.68 124.42 L679.86 123.00 L682.04 121.60 L684.22 120.20 L686.39 118.81 L688.57 117.43 L690.75 116.06 L692.93 114.70 L695.11 113.35 L697.29 112.00 L699.46 110.66 L701.64 109.34 L703.82 108.02 L706.00 106.71 L708.18 105.41 L710.36 104.12 L712.53 102.84 L714.71 101.57 L716.89 100.31 L719.07 99.06 L721.25 97.82 L723.43 96.59 L725.61 95.37 L727.78 94.15 L729.96 92.95 L732.14 91.76 L734.32 90.58 L736.50 89.41 L738.68 88.26 L740.85 87.11 L743.03 85.97 L745.21 84.84 L747.39 83.73 L749.57 82.62 L751.75 81.53 L753.92 80.45 L756.10 79.38 L758.28 78.32 L760.46 77.27 L762.64 76.23 L764.82 75.21 L766.99 74.19 L769.17 73.19 L771.35 72.20 L773.53 71.22 L775.71 70.25" stroke="#0000ff" stroke-width="7.9" stroke-dasharray="2.4 5.1" stroke-dashoffset="0.43"/>
</g>
<g stroke="#000" fill="none">
<rect x="108.6" y="17.3" width="680.4" height="420.4" stroke-width="4.3"/>
<path d="M122.20 437.7v-7.7M122.20 17.3v7.7M162.53 437.7v-4.6M162.53 17.3v4.6M202.86 437.7v-4.6M202.86 17.3v4.6M243.19 437.7v-4.6M243.19 17.3v4.6M283.52 437.7v-7.7M283.52 17.3v7.7M323.85 437.7v-4.6M323.85 17.3v4.6M364.18 437.7v-4.6M364.18 17.3v4.6M404.51 437.7v-4.6M404.51 17.3v4.6M444.84 437.7v-7.7M444.84 17.3v7.7M485.17 437.7v-4.6M485.17 17.3v4.6M525.50 437.7v-4.6M525.50 17.3v4.6M565.83 437.7v-4.6M565.83 17.3v4.6M606.16 437.7v-7.7M606.16 17.3v7.7M646.49 437.7v-4.6M646.49 17.3v4.6M686.82 437.7v-4.6M686.82 17.3v4.6M727.15 437.7v-4.6M727.15 17.3v4.6M767.48 437.7v-7.7M767.48 17.3v7.7" stroke-width="4.3"/>
<path d="M108.6 438.06h8.3M789 438.06h-8.3M108.6 417.00h4.9M789 417.00h-4.9M108.6 395.95h4.9M789 395.95h-4.9M108.6 374.89h4.9M789 374.89h-4.9M108.6 353.84h8.3M789 353.84h-8.3M108.6 332.78h4.9M789 332.78h-4.9M108.6 311.73h4.9M789 311.73h-4.9M108.6 290.67h4.9M789 290.67h-4.9M108.6 269.62h8.3M789 269.62h-8.3M108.6 248.56h4.9M789 248.56h-4.9M108.6 227.51h4.9M789 227.51h-4.9M108.6 206.45h4.9M789 206.45h-4.9M108.6 185.40h8.3M789 185.40h-8.3M108.6 164.34h4.9M789 164.34h-4.9M108.6 143.29h4.9M789 143.29h-4.9M108.6 122.23h4.9M789 122.23h-4.9M108.6 101.18h8.3M789 101.18h-8.3M108.6 80.12h4.9M789 80.12h-4.9M108.6 59.07h4.9M789 59.07h-4.9M108.6 38.01h4.9M789 38.01h-4.9M108.6 16.96h8.3M789 16.96h-8.3" stroke-width="3.8"/>
</g>
<g font-family='"Liberation Sans", sans-serif' font-size="31.5" fill="#000">
<text x="102.4" y="449.36" text-anchor="end">0.0</text>
<text x="102.4" y="365.14" text-anchor="end">0.2</text>
<text x="102.4" y="280.92" text-anchor="end">0.4</text>
<text x="102.4" y="196.70" text-anchor="end">0.6</text>
<text x="102.4" y="112.48" text-anchor="end">0.8</text>
<text x="102.4" y="28.26" text-anchor="end">.0</text>
<path transform="translate(59.3 28.26) scale(0.015381 -0.015381)" d="M763 0H583V1147Q518 1085 412.5 1023T223 930V1104Q373 1174.5 485 1275T644 1470H763Z"/>
<text x="122.20" y="472.3" text-anchor="middle">0</text>
<text x="283.52" y="472.3" text-anchor="middle">200</text>
<text x="444.84" y="472.3" text-anchor="middle">400</text>
<text x="606.16" y="472.3" text-anchor="middle">600</text>
<text x="767.48" y="472.3" text-anchor="middle">800</text>
</g>
<g transform="translate(406.10 521.50) scale(1.0000)" font-family='"Liberation Sans", sans-serif' font-weight="bold" fill="#000"><text x="-2.1" y="0" font-size="31">L</text><text x="26.7" y="-0.3" font-size="25.7">[</text><text x="35.0" y="0" font-size="28.5" textLength="44.5" lengthAdjust="spacingAndGlyphs">km</text><text x="78.9" y="-0.3" font-size="25.7">]</text></g>
<g transform="translate(30.30 292.00) rotate(-90) scale(1.0000)" font-family='"Liberation Sans", sans-serif' font-weight="bold" fill="#000"><text x="-2.60" y="-1.60"  font-size="33.00">P</text><text x="18.60" y="-1.20"  font-size="31.00">(</text><text x="32.80" y="-1.10" font-style="italic" font-size="28.50">v</text><text x="49.60" y="5.50" font-style="italic" font-size="20.00">&#x3bc;</text><path d="M65.1 -8.4H86.3M79.2 -15.2L86.6 -8.4L79.2 -1.6" fill="none" stroke="#000" stroke-width="3.4" stroke-linejoin="miter"/><text x="92.30" y="-1.10" font-style="italic" font-size="28.50">v</text><text x="110.60" y="5.20" font-style="italic" font-size="19.50">&#x3c4;</text><text x="122.30" y="-1.20"  font-size="31.00">)</text></g>
<g fill="none" stroke-linecap="butt">
<line x1="178.8" x2="267.1" y1="333" y2="333" stroke="#800080" stroke-width="5.5"/>
<path d="M181.6 381.6H211.8M226.1 381.6H256.6" stroke="#00ff00" stroke-width="5.4"/>
<path d="M483 333H513.6M528.1 333H536M550.5 333H566.9" stroke="#ff0000" stroke-width="5.5"/>
<path d="M485.80 377.5V385.7M493.76 377.5V385.7M501.72 377.5V385.7M509.68 377.5V385.7M517.64 377.5V385.7M525.60 377.5V385.7M533.56 377.5V385.7M541.52 377.5V385.7M549.48 377.5V385.7M557.44 377.5V385.7" stroke="#0000ff" stroke-width="2.3"/>
<path d="M565.6 377.5V385.7" stroke="#0000ff" stroke-width="1.2" stroke-opacity="0.6"/>
</g>
<g font-family='"Liberation Sans", sans-serif' font-size="26" fill="#000">
<text x="281.1" y="340">SO+ NO</text>
<text x="583.2" y="340">SO+ IO</text>
<text x="582.10" y="389.10" >|</text><path transform="translate(591.30 389.10)" d="M12.1 -12.3C10.4 -13.3 7.6 -13.5 5.3 -12.0C2.8 -10.4 1.2 -7.9 1.2 -5.5C1.2 -2.8 2.8 -1.3 5.3 -1.3C6.9 -1.3 8.3 -1.6 9.5 -2.2M1.7 -7.3H10.3" fill="none" stroke="#000" stroke-width="2.0"/><text x="604.40" y="393.70" font-size="19.0" font-style="italic" textLength="15.8" lengthAdjust="spacingAndGlyphs">&#x3c4;&#x3c4;</text><text x="626.80" y="391.30">&#x2212;</text><path transform="translate(649.90 389.10)" d="M12.1 -12.3C10.4 -13.3 7.6 -13.5 5.3 -12.0C2.8 -10.4 1.2 -7.9 1.2 -5.5C1.2 -2.8 2.8 -1.3 5.3 -1.3C6.9 -1.3 8.3 -1.6 9.5 -2.2M1.7 -7.3H10.3" fill="none" stroke="#000" stroke-width="2.0"/><text x="660.90" y="393.70" font-size="19.0" font-style="italic" textLength="23.5" lengthAdjust="spacingAndGlyphs">&#x3bc;&#x3bc;</text><text x="685.40" y="389.10" >|</text><text x="692.40" y="389.10" >+</text><text x="715.40" y="389.10" >IO</text>
<text x="280.00" y="389.10" >|</text><path transform="translate(289.20 389.10)" d="M12.1 -12.3C10.4 -13.3 7.6 -13.5 5.3 -12.0C2.8 -10.4 1.2 -7.9 1.2 -5.5C1.2 -2.8 2.8 -1.3 5.3 -1.3C6.9 -1.3 8.3 -1.6 9.5 -2.2M1.7 -7.3H10.3" fill="none" stroke="#000" stroke-width="2.0"/><text x="302.30" y="393.70" font-size="19.0" font-style="italic" textLength="15.8" lengthAdjust="spacingAndGlyphs">&#x3c4;&#x3c4;</text><text x="324.70" y="391.30">&#x2212;</text><path transform="translate(347.80 389.10)" d="M12.1 -12.3C10.4 -13.3 7.6 -13.5 5.3 -12.0C2.8 -10.4 1.2 -7.9 1.2 -5.5C1.2 -2.8 2.8 -1.3 5.3 -1.3C6.9 -1.3 8.3 -1.6 9.5 -2.2M1.7 -7.3H10.3" fill="none" stroke="#000" stroke-width="2.0"/><text x="358.80" y="393.70" font-size="19.0" font-style="italic" textLength="23.5" lengthAdjust="spacingAndGlyphs">&#x3bc;&#x3bc;</text><text x="383.30" y="389.10" >|</text><text x="390.30" y="389.10" >+</text><text x="413.30" y="389.10" >NO</text>
</g>
</svg>
</body></html>
